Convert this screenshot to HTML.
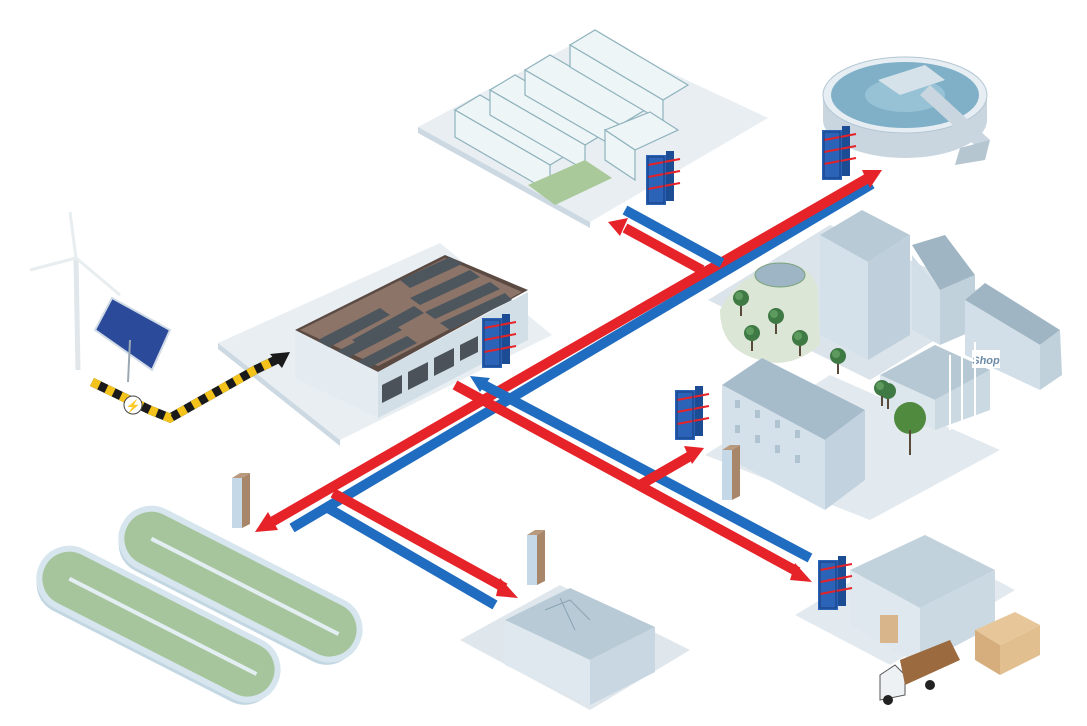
<!DOCTYPE html>
<html><head><meta charset="utf-8"><style>
html,body{margin:0;padding:0;background:#fff;width:1087px;height:726px;overflow:hidden}
svg{display:block}
</style></head><body>
<svg width="1087" height="726" viewBox="0 0 1087 726" xmlns="http://www.w3.org/2000/svg" font-family="Liberation Sans, sans-serif">
<defs>
<g id="hx">
 <rect x="0" y="0" width="20" height="50" fill="#2a63b8"/>
 <rect x="20" y="-4" width="8" height="50" fill="#1b4c94"/>
 <line x1="2" y1="10" x2="34" y2="4" stroke="#e52328" stroke-width="2"/>
 <line x1="2" y1="22" x2="34" y2="16" stroke="#e52328" stroke-width="2"/>
 <line x1="2" y1="34" x2="34" y2="28" stroke="#e52328" stroke-width="2"/>
 <rect x="2" y="2" width="16" height="46" fill="none" stroke="#173e7a" stroke-width="1"/>
</g>
<g id="hxs">
 <rect x="0" y="0" width="10" height="50" fill="#c4d8e8"/>
 <polygon points="10,0 18,-5 18,46 10,50" fill="#a7866a"/>
 <polygon points="0,0 8,-5 18,-5 10,0" fill="#b99a7e"/>
</g>
<g id="tree"><line x1="0" y1="0" x2="0" y2="16" stroke="#5a4a3a" stroke-width="2"/><circle cx="0" cy="-2" r="8" fill="#3f7a45"/><circle cx="-2" cy="-4" r="4" fill="#5c9a5e"/></g>
</defs>

<!-- Platforms -->
<polygon points="418,127 590,35 768,118 590,222" fill="#e8eef2"/>
<polygon points="418,127 590,222 590,228 418,133" fill="#cdd9e2"/>
<polygon points="218,343 440,243 552,335 340,440" fill="#e8eef2"/>
<polygon points="218,343 340,440 340,446 218,349" fill="#cdd9e2"/>
<polygon points="708,300 830,225 1000,300 870,380" fill="#dbe4ea"/>
<polygon points="705,455 830,375 1000,450 870,520" fill="#e3eaef"/>
<polygon points="460,640 560,585 690,650 590,710" fill="#dfe7ed"/>
<polygon points="795,615 920,540 1015,590 890,665" fill="#e3eaef"/>

<!-- Greenhouses -->
<g fill="#eef5f7" stroke="#8fb2bd" stroke-width="1.2">
 <polygon points="455,110 480,95 575,150 550,165"/><polygon points="455,110 550,165 550,192 455,137"/>
 <polygon points="490,90 515,75 610,130 585,145"/><polygon points="490,90 585,145 585,170 490,115"/>
 <polygon points="525,70 550,55 645,110 620,125"/><polygon points="525,70 620,125 620,150 525,95"/>
 <polygon points="570,45 595,30 688,85 663,100"/><polygon points="570,45 663,100 663,122 570,67"/>
 <polygon points="605,130 650,112 678,130 635,150"/><polygon points="605,130 635,150 635,180 605,160"/>
</g>
<polygon points="528,185 585,160 612,178 555,205" fill="#a9c99a"/>

<!-- Clarifier -->
<path d="M823,95 v25 a82,38 0 0 0 164,0 v-25" fill="#c9d6e0"/>
<ellipse cx="905" cy="95" rx="82" ry="38" fill="#e6eef3" stroke="#b3c6d3"/>
<ellipse cx="905" cy="95" rx="74" ry="33" fill="#7fb0c8"/>
<ellipse cx="905" cy="95" rx="40" ry="17" fill="#97c2d6"/>
<polygon points="878,80 925,65 945,80 900,95" fill="#d6e2ea"/>
<polygon points="930,85 990,140 980,150 920,95" fill="#c9d6e0"/>
<polygon points="960,148 990,140 985,160 955,165" fill="#b5c6d1"/>

<!-- Wind turbine & solar -->
<line x1="78" y1="370" x2="76" y2="258" stroke="#e0e6ea" stroke-width="5"/>
<line x1="76" y1="258" x2="70" y2="212" stroke="#e8edf0" stroke-width="3"/>
<line x1="76" y1="258" x2="30" y2="270" stroke="#e8edf0" stroke-width="3"/>
<line x1="76" y1="258" x2="120" y2="295" stroke="#e8edf0" stroke-width="3"/>
<polygon points="95,330 112,298 170,330 152,370" fill="#2b4a9a" stroke="#d0dbe6" stroke-width="2"/>
<line x1="130" y1="340" x2="128" y2="382" stroke="#9aa8b3" stroke-width="2"/>

<!-- Power cable -->
<path d="M92,382 L150,410 L170,418 L255,370 L282,357" stroke="#1a1a1a" stroke-width="9" fill="none"/>
<path d="M92,382 L150,410 L170,418 L255,370 L282,357" stroke="#f3c21b" stroke-width="9" fill="none" stroke-dasharray="8,8"/>
<polygon points="270,354 290,352 282,368" fill="#1a1a1a"/>
<circle cx="133" cy="405" r="9" fill="#fff" stroke="#444"/>
<text x="133" y="410" font-size="12" text-anchor="middle" fill="#f3b400">⚡</text>

<!-- Data center -->
<polygon points="295,330 445,255 528,290 378,372" fill="#5a4a42"/>
<polygon points="300,330 445,258 522,292 378,366" fill="#8c7468"/>
<g fill="#4d555d">
 <polygon points="318,340 380,308 390,315 328,348"/><polygon points="330,355 392,323 402,330 340,362"/>
 <polygon points="345,368 407,336 417,343 355,375"/><polygon points="352,340 414,306 424,313 362,347"/>
 <polygon points="400,280 450,257 462,264 410,288"/><polygon points="410,298 470,270 480,277 420,305"/>
 <polygon points="425,312 490,282 500,289 435,319"/><polygon points="440,323 505,293 512,300 450,330"/>
</g>
<polygon points="295,330 378,372 378,418 295,378" fill="#e4ecf1"/>
<polygon points="378,372 528,292 528,340 378,418" fill="#d3dfe7"/>
<g fill="#4b5259"><polygon points="382,385 402,375 402,393 382,403"/><polygon points="408,372 428,362 428,380 408,390"/><polygon points="434,358 454,348 454,366 434,376"/><polygon points="460,345 478,336 478,352 460,361"/></g>
<use href="#hx" x="482" y="318"/>

<!-- Residential -->
<polygon points="820,235 862,210 910,235 868,262" fill="#b8cad6"/>
<polygon points="820,235 868,262 868,360 820,335" fill="#d4e1ea"/>
<polygon points="868,262 910,235 910,335 868,360" fill="#bfd0dc"/>
<polygon points="912,245 945,235 975,275 940,290" fill="#9fb5c3"/>
<polygon points="912,255 940,290 940,345 912,330" fill="#d2dfe8"/>
<polygon points="940,290 975,275 975,330 940,345" fill="#c0d1dc"/>
<polygon points="965,300 985,283 1060,330 1040,345" fill="#9fb5c3"/>
<polygon points="965,300 1040,345 1040,390 965,355" fill="#d2dfe8"/>
<polygon points="1040,345 1060,330 1062,375 1040,390" fill="#c0d1dc"/>
<polygon points="880,375 935,345 990,370 935,400" fill="#b6c8d4"/>
<polygon points="880,375 935,400 935,430 880,405" fill="#dbe6ed"/>
<polygon points="935,400 990,370 990,410 935,430" fill="#cbd9e3"/>
<rect x="972" y="350" width="28" height="18" fill="#fff"/>
<text x="986" y="364" font-size="11" font-style="italic" font-weight="bold" fill="#6b8aa6" text-anchor="middle">Shop</text>
<line x1="950" y1="355" x2="950" y2="430" stroke="#fff" stroke-width="2"/>
<line x1="962" y1="348" x2="962" y2="423" stroke="#fff" stroke-width="2"/>
<line x1="975" y1="342" x2="975" y2="416" stroke="#fff" stroke-width="2"/>
<!-- park -->
<path d="M720,310 Q740,270 790,265 Q820,270 818,300 L820,345 Q790,370 760,360 Q720,350 720,310Z" fill="#dce6d6"/>
<ellipse cx="780" cy="275" rx="25" ry="12" fill="#9db5c5" stroke="#7ba27b"/>
<use href="#tree" x="741" y="300"/><use href="#tree" x="776" y="318"/><use href="#tree" x="752" y="335"/><use href="#tree" x="800" y="340"/><use href="#tree" x="838" y="358"/><use href="#tree" x="888" y="393"/><use href="#tree" x="882" y="390"/><use href="#tree" x="812" y="485"/>
<circle cx="910" cy="418" r="16" fill="#4f8a3f"/><line x1="910" y1="430" x2="910" y2="455" stroke="#5a4a3a" stroke-width="2"/>
<!-- apartment low -->
<polygon points="722,385 762,358 865,410 825,440" fill="#a7bccb"/>
<polygon points="722,385 825,440 825,510 722,455" fill="#d5e1ea"/>
<polygon points="825,440 865,410 865,480 825,510" fill="#c2d2de"/>
<g fill="#b0c3d1"><rect x="735" y="400" width="5" height="8"/><rect x="755" y="410" width="5" height="8"/><rect x="775" y="420" width="5" height="8"/><rect x="795" y="430" width="5" height="8"/><rect x="735" y="425" width="5" height="8"/><rect x="755" y="435" width="5" height="8"/><rect x="775" y="445" width="5" height="8"/><rect x="795" y="455" width="5" height="8"/></g>
<use href="#hx" x="675" y="390"/>
<use href="#hxs" x="722" y="450"/>

<!-- Pools -->
<g transform="translate(158,625) rotate(27)">
 <rect x="-130" y="-25" width="260" height="60" rx="30" fill="#c3d7e3"/>
 <rect x="-130" y="-31" width="260" height="60" rx="30" fill="#a6c59c" stroke="#d7e6ee" stroke-width="6"/>
 <line x1="-100" y1="-1" x2="110" y2="-1" stroke="#e3eef3" stroke-width="4"/>
</g>
<g transform="translate(240,585) rotate(27)">
 <rect x="-130" y="-25" width="260" height="60" rx="30" fill="#c3d7e3"/>
 <rect x="-130" y="-31" width="260" height="60" rx="30" fill="#a6c59c" stroke="#d7e6ee" stroke-width="6"/>
 <line x1="-100" y1="-1" x2="110" y2="-1" stroke="#e3eef3" stroke-width="4"/>
</g>
<use href="#hxs" x="232" y="478"/>
<use href="#hxs" x="527" y="535"/>

<!-- Lab building -->
<polygon points="505,620 570,588 655,627 590,660" fill="#b8cad6"/>
<polygon points="505,620 590,660 590,705 505,665" fill="#dfe8ee"/>
<polygon points="590,660 655,627 655,672 590,705" fill="#c8d7e2"/>
<path d="M545,610 L570,600 L590,620 M560,598 L575,630" stroke="#8aa4b4" fill="none"/>

<!-- Warehouse -->
<polygon points="850,570 925,535 995,570 920,608" fill="#c2d2dd"/>
<polygon points="850,570 920,608 920,665 850,625" fill="#dfe8ee"/>
<polygon points="920,608 995,570 995,625 920,665" fill="#cbd9e3"/>
<rect x="880" y="615" width="18" height="28" fill="#d8b58a"/>
<polygon points="975,630 1015,612 1040,625 1000,645" fill="#e7c79a"/>
<polygon points="975,630 1000,645 1000,675 975,660" fill="#d6ae7d"/>
<polygon points="1000,645 1040,625 1040,655 1000,675" fill="#e2bf8f"/>
<polygon points="880,675 895,665 905,675 905,695 880,700" fill="#eef1f3" stroke="#555"/>
<polygon points="900,660 950,640 960,660 905,685" fill="#9b6a3f"/>
<circle cx="888" cy="700" r="5" fill="#222"/><circle cx="930" cy="685" r="5" fill="#222"/>
<use href="#hx" x="818" y="560"/>
<use href="#hx" x="646" y="155"/>
<use href="#hx" x="822" y="130"/>

<!-- Pipes -->
<g stroke-width="10" fill="none">
 <line x1="292" y1="528" x2="872" y2="184" stroke="#1f6cc0"/>
 <line x1="270" y1="523" x2="868" y2="178" stroke="#e52328"/>
 <line x1="625" y1="210" x2="722" y2="263" stroke="#1f6cc0"/>
 <line x1="625" y1="228" x2="702" y2="270" stroke="#e52328"/>
 <line x1="482" y1="384" x2="810" y2="558" stroke="#1f6cc0"/>
 <line x1="455" y1="385" x2="798" y2="572" stroke="#e52328"/>
 <line x1="328" y1="508" x2="495" y2="605" stroke="#1f6cc0"/>
 <line x1="333" y1="493" x2="505" y2="588" stroke="#e52328"/>
 <line x1="640" y1="485" x2="692" y2="455" stroke="#e52328"/>
</g>
<g fill="#e52328">
 <polygon points="255,532 268,512 278,530"/>
 <polygon points="882,170 862,170 870,188"/>
 <polygon points="608,222 628,218 620,236"/>
 <polygon points="812,582 795,563 790,580"/>
 <polygon points="518,598 500,578 496,596"/>
 <polygon points="704,448 684,446 692,464"/>
</g>
<polygon points="470,376 490,378 480,392" fill="#1f6cc0"/>
</svg>
</body></html>
